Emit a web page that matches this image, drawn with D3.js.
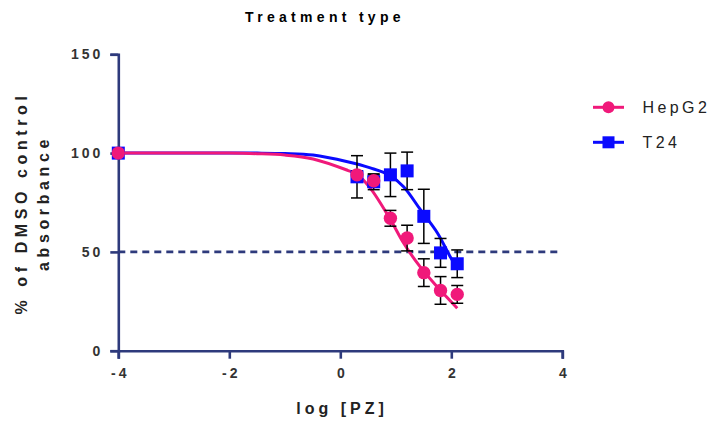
<!DOCTYPE html>
<html>
<head>
<meta charset="utf-8">
<script src="https://cdn.jsdelivr.net/npm/d3@7"></script>
<style>
  body { margin: 0; background: #fff; }
  svg { display: block; font-family: "Liberation Sans", Arial, sans-serif; }
</style>
</head>
<body>
<svg id="chart" width="715" height="423"></svg>
<script>
// log [PZ] doses and mean % absorbance
var doses = [-4, 0.301, 0.602, 0.903, 1.204, 1.505, 1.806, 2.107]
var hepg2 = [100, 89, 86, 67, 57, 39.5, 30.5, 28.5]
var hepg2Err = [0, 2, 3, 4, 6.5, 7, 7, 4.5]
var t24 = [100, 88, 85.5, 89, 91, 68, 49.5, 44]
var t24Err = [0, 10.7, 4, 11, 9.5, 13.7, 7.3, 7]

// fitted curves
var hepg2CurveX = [-4, -2, -1.5, -1, -0.49, 0.13, 0.3, 0.54, 0.89, 1.14, 1.44, 1.75, 2.107]
var hepg2CurveY = [100, 100, 99.7, 99, 97, 91.3, 89.3, 82.3, 67, 54.5, 42.4, 32.2, 21.5]
var t24CurveX = [-4, -2, -1.5, -1, -0.49, 0.13, 0.54, 0.88, 1.14, 1.44, 1.75, 1.98, 2.107]
var t24CurveY = [100, 100, 100, 99.8, 99, 95.6, 92.5, 88.9, 83, 71.5, 59.6, 47.6, 42]

var xTicks = [-4, -2, 0, 2, 4]
var yTicks = [0, 50, 100, 150]
var cutoff = 50

var navy = '#2e3a7c', pink = '#f0197a', blue = '#0a0aff'

var svg = d3.select('#chart')
var x = d3.scaleLinear().domain([-4, 4]).range([118.3, 562.3])
var y = d3.scaleLinear().domain([0, 150]).range([350.7, 54.3])

// axes
var gx = svg.append('g')
    .attr('transform', 'translate(0,' + y(0) + ')')
    .call(d3.axisBottom(x).tickValues(xTicks).tickSize(8).tickPadding(9).tickFormat(String))
var gy = svg.append('g')
    .attr('transform', 'translate(' + x(-4) + ',0)')
    .call(d3.axisLeft(y).tickValues(yTicks).tickSize(8).tickPadding(7))
;[gx, gy].forEach(function(g) {
    g.select('.domain').attr('stroke', navy).attr('stroke-width', 2.6)
    g.selectAll('.tick line').attr('stroke', navy).attr('stroke-width', 2.6)
    g.selectAll('.tick text')
        .attr('fill', '#333')
        .style('font-size', '14px')
        .style('font-weight', 'bold')
        .style('letter-spacing', '3px')
        .style('font-family', '"Liberation Sans", Arial, sans-serif')
})
gx.selectAll('.tick text').attr('dx', '1.5px')

// 50% line
svg.append('line')
    .attr('x1', x(-4)).attr('x2', x(4))
    .attr('y1', y(cutoff)).attr('y2', y(cutoff))
    .attr('stroke', navy).attr('stroke-width', 2.6)
    .attr('stroke-dasharray', '7,5')

var line = d3.line()
    .x(function(d) { return x(d[0]) })
    .y(function(d) { return y(d[1]) })
    .curve(d3.curveCatmullRom.alpha(0.5))

svg.append('path')
    .attr('d', line(t24CurveX.map(function(v, i) { return [v, t24CurveY[i]] })))
    .attr('fill', 'none').attr('stroke', blue).attr('stroke-width', 3)
svg.append('path')
    .attr('d', line(hepg2CurveX.map(function(v, i) { return [v, hepg2CurveY[i]] })))
    .attr('fill', 'none').attr('stroke', pink).attr('stroke-width', 3)

// error bars
function errBars(vals, errs) {
    var g = svg.append('g').attr('stroke', '#000').attr('stroke-width', 1.5)
    doses.forEach(function(d, i) {
        if (!errs[i]) return
        var cx = x(d), top = y(vals[i] + errs[i]), bot = y(vals[i] - errs[i])
        g.append('line').attr('x1', cx).attr('x2', cx).attr('y1', top).attr('y2', bot)
        g.append('line').attr('x1', cx - 6).attr('x2', cx + 6).attr('y1', top).attr('y2', top)
        g.append('line').attr('x1', cx - 6).attr('x2', cx + 6).attr('y1', bot).attr('y2', bot)
    })
}
errBars(t24, t24Err)
errBars(hepg2, hepg2Err)

svg.append('g').selectAll('rect')
    .data(doses)
    .enter().append('rect')
    .attr('x', function(d) { return x(d) - 6.5 })
    .attr('y', function(d, i) { return y(t24[i]) - 6.5 })
    .attr('width', 13).attr('height', 13)
    .attr('fill', blue)
svg.append('g').selectAll('circle')
    .data(doses)
    .enter().append('circle')
    .attr('cx', function(d) { return x(d) })
    .attr('cy', function(d, i) { return y(hepg2[i]) })
    .attr('r', 6.7)
    .attr('fill', pink)

// legend
var legend = svg.append('g')
var items = [{name: 'HepG2', color: pink, shape: 'circle'}, {name: 'T24', color: blue, shape: 'square'}]
items.forEach(function(it, i) {
    var ly = 107.3 + i * 35
    legend.append('line').attr('x1', 593).attr('x2', 624).attr('y1', ly).attr('y2', ly)
        .attr('stroke', it.color).attr('stroke-width', 3)
    if (it.shape == 'circle')
        legend.append('circle').attr('cx', 608.5).attr('cy', ly).attr('r', 6).attr('fill', it.color)
    else
        legend.append('rect').attr('x', 602.5).attr('y', ly - 6).attr('width', 12).attr('height', 12).attr('fill', it.color)
    legend.append('text').attr('x', 642.5).attr('y', ly + 6)
        .attr('fill', '#222')
        .style('font-size', '16px').style('letter-spacing', '3.4px')
        .text(it.name)
})

// titles
svg.append('text')
    .attr('x', 325).attr('y', 21.7)
    .attr('text-anchor', 'middle')
    .style('font-size', '14px').style('font-weight', 'bold').style('letter-spacing', '4.3px')
    .text('Treatment type')
svg.append('text')
    .attr('x', 342).attr('y', 414)
    .attr('text-anchor', 'middle')
    .attr('fill', '#222')
    .style('font-size', '16px').style('font-weight', 'bold').style('letter-spacing', '4px')
    .text('log [PZ]')
var yl = svg.append('text')
    .attr('transform', 'translate(26.5,203) rotate(-90)')
    .attr('text-anchor', 'middle')
    .attr('fill', '#222')
    .style('font-size', '16px').style('font-weight', 'bold').style('letter-spacing', '4.6px')
yl.append('tspan').attr('x', 0).attr('y', 0).text('% of DMSO control')
yl.append('tspan').attr('x', 0).attr('y', 22).text('absorbance')
</script>
</body>
</html>
